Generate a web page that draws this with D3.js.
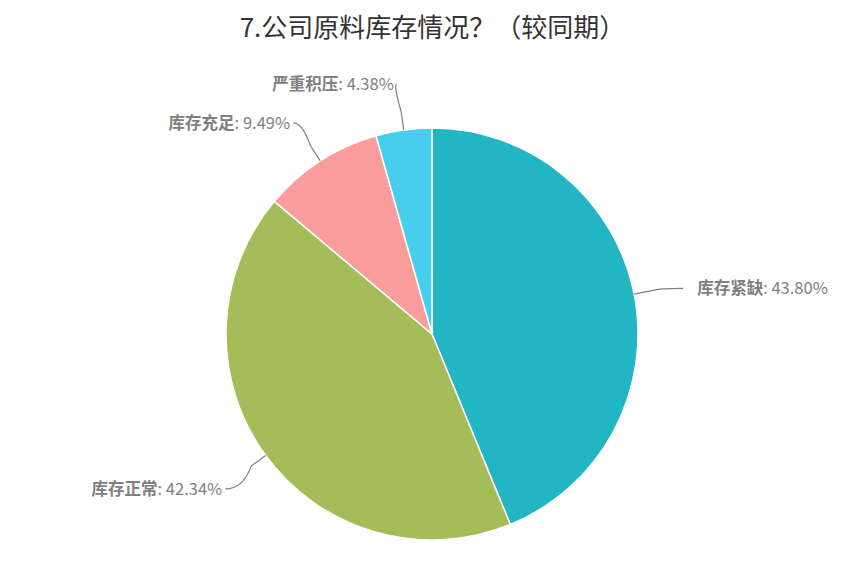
<!DOCTYPE html>
<html>
<head>
  <meta charset="utf-8">
  <title>公司原料库存情况</title>
  <script src="https://d3js.org/d3.v7.min.js"></script>
  <style>
    html, body {
      margin: 0;
      padding: 0;
      background: #fff;
      overflow: hidden;
    }
    .title {
      font-family: "Noto Sans CJK SC", "Noto Sans", sans-serif;
      font-size: 26px;
      fill: #333;
    }
    .label {
      font-family: "Noto Sans CJK SC", "Noto Sans", sans-serif;
      font-size: 16.5px;
      fill: #808080;
    }
    .label .name {
      font-weight: bold;
    }
    .connector {
      fill: none;
      stroke: #808080;
      stroke-width: 1.2px;
    }
  </style>
</head>
<body>
  <svg width="865" height="577"></svg>
  <script>
    // datos
    const categories = ["库存紧缺", "库存正常", "库存充足", "严重积压"];
    const values = [43.80, 42.34, 9.49, 4.38];
    const colors = ["#22b5c3", "#a5bd58", "#fa9d9c", "#47ceef"];

    const width = 865, height = 577;
    const cx = 432, cy = 334, radius = 206;
    const labelDist = 50;

    const svg = d3.select("svg");

    svg.append("text")
      .attr("class", "title")
      .attr("x", width / 2)
      .attr("y", 37)
      .attr("text-anchor", "middle")
      .text("7.公司原料库存情况？（较同期）");

    const data = categories.map((c, i) => ({ name: c, value: values[i], color: colors[i] }));

    const pie = d3.pie()
      .sort(null)
      .value(d => d.value);

    const arc = d3.arc()
      .innerRadius(0)
      .outerRadius(radius);

    const arcs = pie(data);
    const g = svg.append("g").attr("transform", `translate(${cx},${cy})`);

    g.selectAll("path.slice")
      .data(arcs)
      .enter()
      .append("path")
      .attr("class", "slice")
      .attr("d", arc)
      .attr("fill", d => d.data.color)
      .attr("stroke", "#fff")
      .attr("stroke-width", 1.5)
      .attr("stroke-linejoin", "round");

    // puntos de etiquetas
    function polar(a, r) {
      return [r * Math.sin(a), -r * Math.cos(a)];
    }

    arcs.forEach(d => {
      const a = (d.startAngle + d.endAngle) / 2;
      const right = Math.sin(a) >= 0;
      const p0 = polar(a, radius);
      const p1 = polar(a, radius + 18);
      const anchor = polar(a, radius + labelDist);
      anchor[1] += 4;

      g.append("path")
        .attr("class", "connector")
        .attr("d", `M${anchor[0]},${anchor[1]} Q${p1[0] + (right ? 8 : -8)},${anchor[1]} ${p1[0]},${p1[1]} L${p0[0]},${p0[1]}`);

      const t = g.append("text")
        .attr("class", "label")
        .attr("x", right ? anchor[0] + 14 : anchor[0] - 3)
        .attr("y", anchor[1])
        .attr("dy", "0.35em")
        .attr("text-anchor", right ? "start" : "end");
      t.append("tspan").attr("class", "name").text(d.data.name);
      t.append("tspan").text(": " + d.data.value.toFixed(2) + "%");
    });
  </script>
</body>
</html>
